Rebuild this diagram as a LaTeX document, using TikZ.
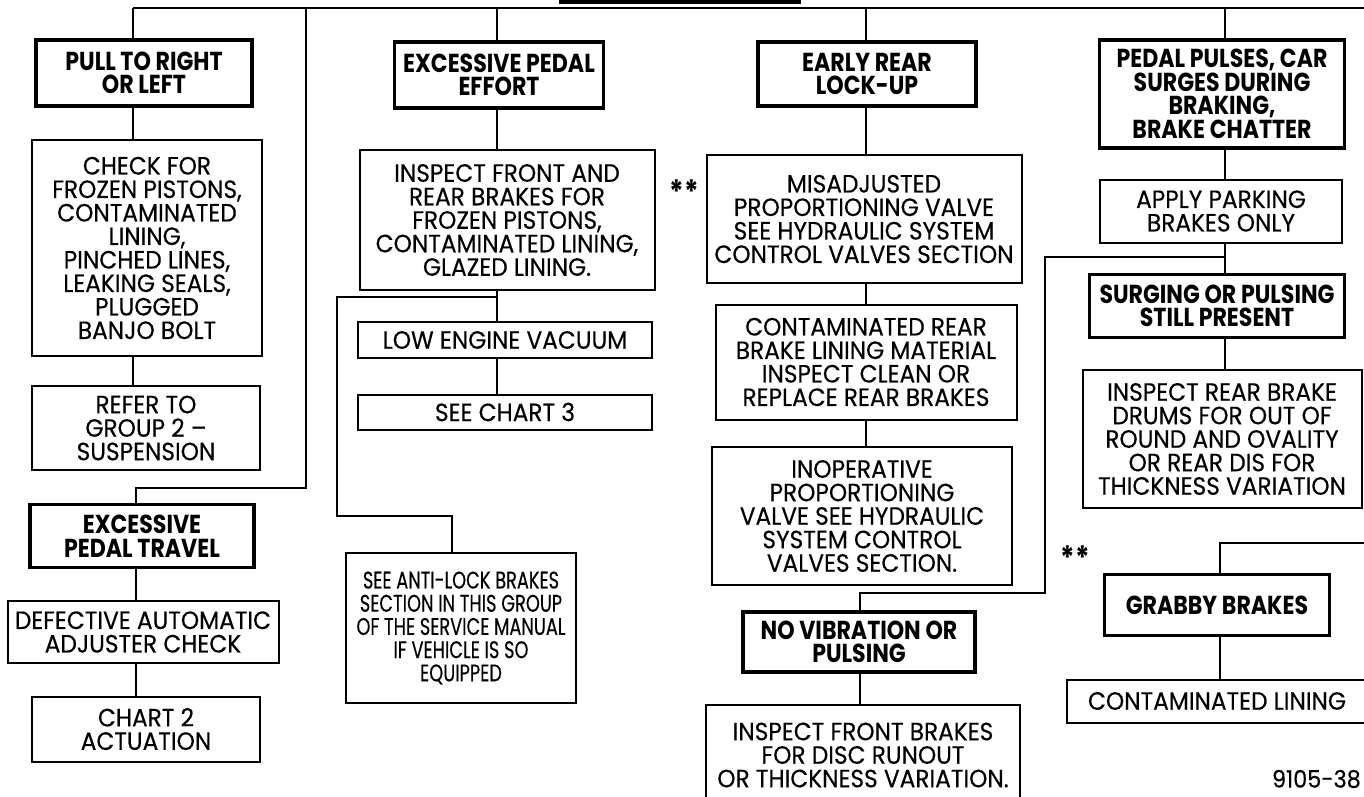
\documentclass[tikz,border=0pt]{standalone}
\usepackage{fontspec}
\newfontfamily\fr{Poppins}[FakeStretch=0.93, FakeBold=0.35]
\newfontfamily\fn{Poppins}[FakeStretch=0.74, FakeBold=0.35]
\newfontfamily\fbb{Poppins}[FakeStretch=0.85]
\begin{document}
\begin{tikzpicture}[x=1pt,y=-1pt,
  box/.style={draw, line width=2pt, inner sep=0pt, align=center, text=black,
    font={\fr\fontsize{25}{23.5}\selectfont}},
  nbox/.style={box, font={\fn\fontsize{24}{23.2}\selectfont}},
  hbox/.style={box, line width=3.6pt, font={\fbb\bfseries\fontsize{26}{23.5}\selectfont}},
  wire/.style={line width=1.8pt},
  note/.style={inner sep=0pt, font={\fr\fontsize{24}{24}\selectfont}},
  star/.style={inner sep=0pt, font={\fbb\bfseries\fontsize{32}{32}\selectfont}}]
\useasboundingbox (0,0) rectangle (1364,797);
\clip (0,0) rectangle (1364,797);
% title box (cut off at top)
\node[hbox, minimum width=238, minimum height=60] (title) at (680,-28) {};
% column 1
\node[hbox, minimum width=216, minimum height=66] (pull) at (144,73) {PULL TO RIGHT\\OR LEFT};
\node[box, minimum width=230, minimum height=216] (check) at (147,248) {CHECK FOR\\FROZEN PISTONS,\\CONTAMINATED\\LINING,\\PINCHED LINES,\\LEAKING SEALS,\\PLUGGED\\BANJO BOLT};
\node[box, minimum width=228, minimum height=84] (refer) at (146,428) {REFER TO\\GROUP 2 –\\SUSPENSION};
\node[hbox, minimum width=224, minimum height=63] (ept) at (142,536) {EXCESSIVE\\PEDAL TRAVEL};
\node[box, minimum width=271, minimum height=62] (dac) at (143,632) {DEFECTIVE AUTOMATIC\\ADJUSTER CHECK};
\node[box, minimum width=228, minimum height=65] (ch2) at (146,729) {CHART 2\\ACTUATION};
% column 2
\node[hbox, minimum width=209, minimum height=66] (epe) at (499,75) {EXCESSIVE PEDAL\\EFFORT};
\node[box, minimum width=295, minimum height=140] (ifr) at (507,220) {INSPECT FRONT AND\\REAR BRAKES FOR\\FROZEN PISTONS,\\CONTAMINATED LINING,\\GLAZED LINING.};
\node[box, minimum width=294, minimum height=36] (lev) at (505,340) {LOW ENGINE VACUUM};
\node[box, minimum width=294, minimum height=35] (sc3) at (505,412) {SEE CHART 3};
\node[nbox, minimum width=230, minimum height=150] (abs) at (461,628) {SEE ANTI-LOCK BRAKES\\SECTION IN THIS GROUP\\OF THE SERVICE MANUAL\\IF VEHICLE IS SO\\EQUIPPED};
\node[star] (s1) at (684,192) {**};
% column 3
\node[hbox, minimum width=218, minimum height=64] (erl) at (867,74) {EARLY REAR\\LOCK-UP};
\node[box, minimum width=315, minimum height=128] (mis) at (864,219) {MISADJUSTED\\PROPORTIONING VALVE\\SEE HYDRAULIC SYSTEM\\CONTROL VALVES SECTION};
\node[box, minimum width=301, minimum height=115] (crl) at (866,362) {CONTAMINATED REAR\\BRAKE LINING MATERIAL\\INSPECT CLEAN OR\\REPLACE REAR BRAKES};
\node[box, minimum width=300, minimum height=138] (inop) at (862,516) {INOPERATIVE\\PROPORTIONING\\VALVE SEE HYDRAULIC\\SYSTEM CONTROL\\VALVES SECTION.};
\node[hbox, minimum width=232, minimum height=60] (nvib) at (859,642) {NO VIBRATION OR\\PULSING};
\node[box, minimum width=314, minimum height=100] (ifb) at (863,755) {INSPECT FRONT BRAKES\\FOR DISC RUNOUT\\OR THICKNESS VARIATION.};
% column 4
\node[hbox, minimum width=245, minimum height=108] (pp) at (1222,94) {PEDAL PULSES, CAR\\SURGES DURING\\BRAKING,\\BRAKE CHATTER};
\node[box, minimum width=242, minimum height=63] (apb) at (1221,211) {APPLY PARKING\\BRAKES ONLY};
\node[hbox, minimum width=255, minimum height=63] (sur) at (1217,306) {SURGING OR PULSING\\STILL PRESENT};
\node[box, minimum width=279, minimum height=138] (ird) at (1222,439) {INSPECT REAR BRAKE\\DRUMS FOR OUT OF\\ROUND AND OVALITY\\OR REAR DIS FOR\\THICKNESS VARIATION};
\node[star] (s2) at (1075,558) {**};
\node[hbox, minimum width=225, minimum height=61] (grab) at (1217,605) {GRABBY BRAKES};
\node[box, minimum width=300, minimum height=43] (cl) at (1217,701) {CONTAMINATED LINING};
\node[note, anchor=east] (fig) at (1361,779) {9105-38};
% connectors
\coordinate (tL) at (133,8);
\coordinate (tR) at (1372,8);
\coordinate (t2) at (306,8);
\coordinate (j1) at (306,488);
\coordinate (k1) at (136,488);
\coordinate (t3) at (497,8);
\coordinate (j2) at (337,297);
\coordinate (j3) at (337,516);
\coordinate (j4) at (452,516);
\coordinate (t4) at (866,8);
\coordinate (t5) at (1225,8);
\coordinate (j5) at (1045,257);
\coordinate (j6) at (1045,593);
\coordinate (j7) at (860,593);
\coordinate (r1) at (1372,543);
\coordinate (r2) at (1220,543);
\draw[wire] (tL) -- (tR);
\draw[wire] (tL) -- (tL |- pull.north);
\draw[wire] (pull.south -| tL) -- (check.north -| tL);
\draw[wire] (check.south -| tL) -- (refer.north -| tL);
\draw[wire] (t2) -- (j1) -- (k1) -- (k1 |- ept.north);
\draw[wire] (ept.south -| k1) -- (dac.north -| k1);
\draw[wire] (dac.south -| k1) -- (ch2.north -| k1);
\draw[wire] (t3) -- (t3 |- epe.north);
\draw[wire] (epe.south -| t3) -- (ifr.north -| t3);
\draw[wire] (ifr.south -| t3) -- (lev.north -| t3);
\draw[wire] (lev.south -| t3) -- (sc3.north -| t3);
\draw[wire] (t3 |- j2) -- (j2) -- (j3) -- (j4) -- (j4 |- abs.north);
\draw[wire] (t4) -- (t4 |- erl.north);
\draw[wire] (erl.south -| t4) -- (mis.north -| t4);
\draw[wire] (mis.south -| t4) -- (crl.north -| t4);
\draw[wire] (crl.south -| t4) -- (inop.north -| t4);
\draw[wire] (t5) -- (t5 |- pp.north);
\draw[wire] (pp.south -| t5) -- (apb.north -| t5);
\draw[wire] (apb.south -| t5) -- (sur.north -| t5);
\draw[wire] (sur.south -| t5) -- (ird.north -| t5);
\draw[wire] (t5 |- j5) -- (j5) -- (j6) -- (j7) -- (j7 |- nvib.north);
\draw[wire] (nvib.south -| j7) -- (ifb.north -| j7);
\draw[wire] (r1) -- (r2) -- (r2 |- grab.north);
\draw[wire] (grab.south -| r2) -- (cl.north -| r2);
\end{tikzpicture}
\end{document}
